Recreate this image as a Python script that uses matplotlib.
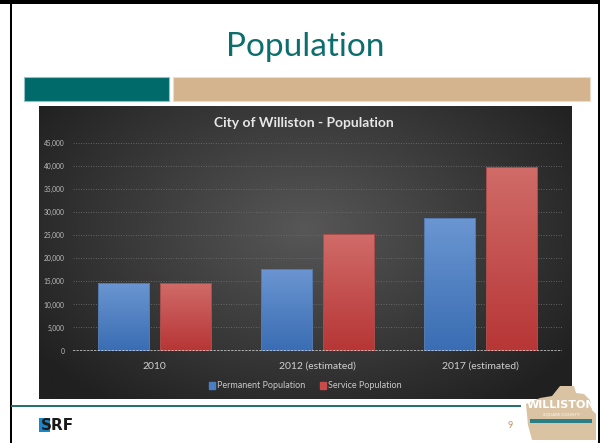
import numpy as np
import matplotlib
matplotlib.use("Agg")
import matplotlib.pyplot as plt
from matplotlib.patches import Rectangle, Polygon
from matplotlib.ticker import FuncFormatter
from matplotlib.colors import to_rgb

# ---- data ----
categories = ["2010", "2012 (estimated)", "2017 (estimated)"]
permanent = [14700, 17800, 28700]
service = [14700, 25400, 39800]
series_names = ["Permanent Population", "Service Population"]
y_ticks = list(range(0, 45001, 5000))

W, H = 600, 443
plt.rcParams["font.family"] = ["Lato", "DejaVu Sans"]

fig = plt.figure(figsize=(W / 100, H / 100), dpi=100)
fig.patch.set_facecolor("white")


def px_rect(x0, y0, x1, y1):
    return [x0 / W, 1 - y1 / H, (x1 - x0) / W, (y1 - y0) / H]


# ---- slide layer (pixel coordinates, y down) ----
slide = fig.add_axes([0, 0, 1, 1], zorder=0)
slide.set_xlim(0, W)
slide.set_ylim(H, 0)
slide.axis("off")

# slide frame
slide.add_patch(Rectangle((0, 0), W, 4, color="black", lw=0))
slide.add_patch(Rectangle((10, 0), 2.2, H, color="black", lw=0))
slide.add_patch(Rectangle((597.5, 0), 2.5, H, color="black", lw=0))

# title
slide.text(305, 47, "Population", ha="center", va="center",
           fontsize=24, color="#0d6e6e")

# accent bars
slide.add_patch(Rectangle((24, 77), 145, 24, facecolor="#006a6a",
                          edgecolor="#8fc2c2", lw=0.8))
slide.add_patch(Rectangle((173, 77), 417, 24, facecolor="#d3b48e",
                          edgecolor="#eddcc6", lw=0.8))

# chart background with radial shading
cx0, cx1, cy0, cy1 = 39, 572, 106, 399
gx, gy = np.meshgrid(np.linspace(0, 1, 300), np.linspace(0, 1, 200))
d = np.sqrt(((gx - 0.5) / 0.62) ** 2 + ((gy - 0.42) / 0.75) ** 2)
d = np.clip(d, 0, 1)
c_in = np.array(to_rgb("#575757"))
c_out = np.array(to_rgb("#202020"))
bg = c_in[None, None, :] * (1 - d[..., None]) + c_out[None, None, :] * d[..., None]
slide.imshow(bg, extent=(cx0, cx1, cy1, cy0), origin="upper",
             aspect="auto", zorder=1, interpolation="bilinear")
slide.set_xlim(0, W)
slide.set_ylim(H, 0)

slide.text(304, 123, "City of Williston - Population", ha="center",
           va="center", fontsize=10, fontweight="bold", color="#e6e6e6",
           zorder=3)

# footer
slide.plot([12, 520], [406, 406], color="#1f6f6a", lw=1.4, zorder=2)
slide.add_patch(Rectangle((39, 418), 11, 14, color="#1a86c8", lw=0, zorder=2))
slide.text(41, 425.5, "SRF", ha="left", va="center", fontsize=11,
           fontweight="bold", color="#1a1a1a", zorder=3,
           family=["Liberation Sans Narrow", "DejaVu Sans"])
slide.text(510, 425, "9", ha="center", va="center", fontsize=6.5,
           color="#c4926e", zorder=3)

# county logo
logo = Polygon([(560, 386), (574, 386), (576, 393), (584, 394), (590, 400),
                (592, 410), (596, 414), (596, 440), (532, 440), (528, 425),
                (526, 404), (540, 398), (552, 396)],
               closed=True, facecolor="#d9c3a3", edgecolor="none", zorder=2)
slide.add_patch(logo)
slide.text(561, 405, "WILLISTON", ha="center", va="center", fontsize=8,
           fontweight="bold", color="white", zorder=3,
           family=["Liberation Sans Narrow", "DejaVu Sans"])
slide.text(561, 414, "SQUARE COUNTY", ha="center", va="center", fontsize=3.2,
           fontweight="bold", color="#f4ece0", zorder=3)
slide.add_patch(Rectangle((530, 419), 62, 3.5, color="#2a7f86", lw=0, zorder=3))

# ---- chart axes ----
ax = fig.add_axes(px_rect(73, 143.3, 562, 350.5), zorder=2)
ax.set_facecolor("none")

x = np.arange(len(categories))
bw = 0.313
off = 0.19
grad_specs = [("#6b96d2", "#3a6db3", "#5479ad"), ("#d06c69", "#b73636", "#a84d4b")]
bar_sets = []
for vals, shift, name, (ctop, cbot, cedge) in zip(
        [permanent, service], [-off, off], series_names, grad_specs):
    bars = ax.bar(x + shift, vals, bw, color=cbot, edgecolor=cedge,
                  lw=0.7, label=name, zorder=3)
    bar_sets.append((bars, ctop, cbot))

for bars, ctop, cbot in bar_sets:
    t = np.array(to_rgb(ctop))
    b = np.array(to_rgb(cbot))
    ramp = np.linspace(0, 1, 100)[:, None]
    img = (t[None, :] * (1 - ramp) + b[None, :] * ramp)[:, None, :]
    for p in bars:
        x0, y0 = p.get_x(), p.get_y()
        w, h = p.get_width(), p.get_height()
        im = ax.imshow(img, extent=(x0, x0 + w, y0, y0 + h), origin="upper",
                       aspect="auto", zorder=3.5, interpolation="bilinear")
        im.set_clip_path(p)
        edge = Rectangle((x0, y0), w, h, fill=False, edgecolor=p.get_edgecolor(),
                         lw=0.7, zorder=4)
        ax.add_patch(edge)

ax.set_xlim(-0.5, len(categories) - 0.5)
ax.set_ylim(0, 45000)
ax.set_yticks(y_ticks)
ax.yaxis.set_major_formatter(FuncFormatter(lambda v, _: f"{int(v):,}"))
ax.set_xticks(x)
ax.set_xticklabels(categories)

ax.grid(axis="y", color="#6a6a6a", lw=0.6, ls=(0, (1.2, 1.8)), zorder=1)
ax.set_axisbelow(True)
for s in ax.spines.values():
    s.set_visible(False)
ax.axhline(0, color="#d0d0d0", lw=1.1, ls=(0, (1.5, 0.8)), zorder=5)

ax.tick_params(axis="y", length=0, pad=6, labelsize=4.8, labelcolor="#bdbdbd")
ax.tick_params(axis="x", length=0, pad=8, labelsize=7.5, labelcolor="#d0d0d0")

leg_handles = [Rectangle((0, 0), 1, 1, color="#4a7ec4"),
               Rectangle((0, 0), 1, 1, color="#c94a48")]
fig.legend(leg_handles, series_names, loc="center",
           bbox_to_anchor=(305 / W, 1 - 386 / H), ncol=2, frameon=False,
           fontsize=6.5, labelcolor="#c8c8c8", handlelength=0.75,
           handleheight=0.75, handletextpad=0.15, columnspacing=1.6,
           borderaxespad=0)

fig.savefig("out.png", dpi=100, facecolor="white")
